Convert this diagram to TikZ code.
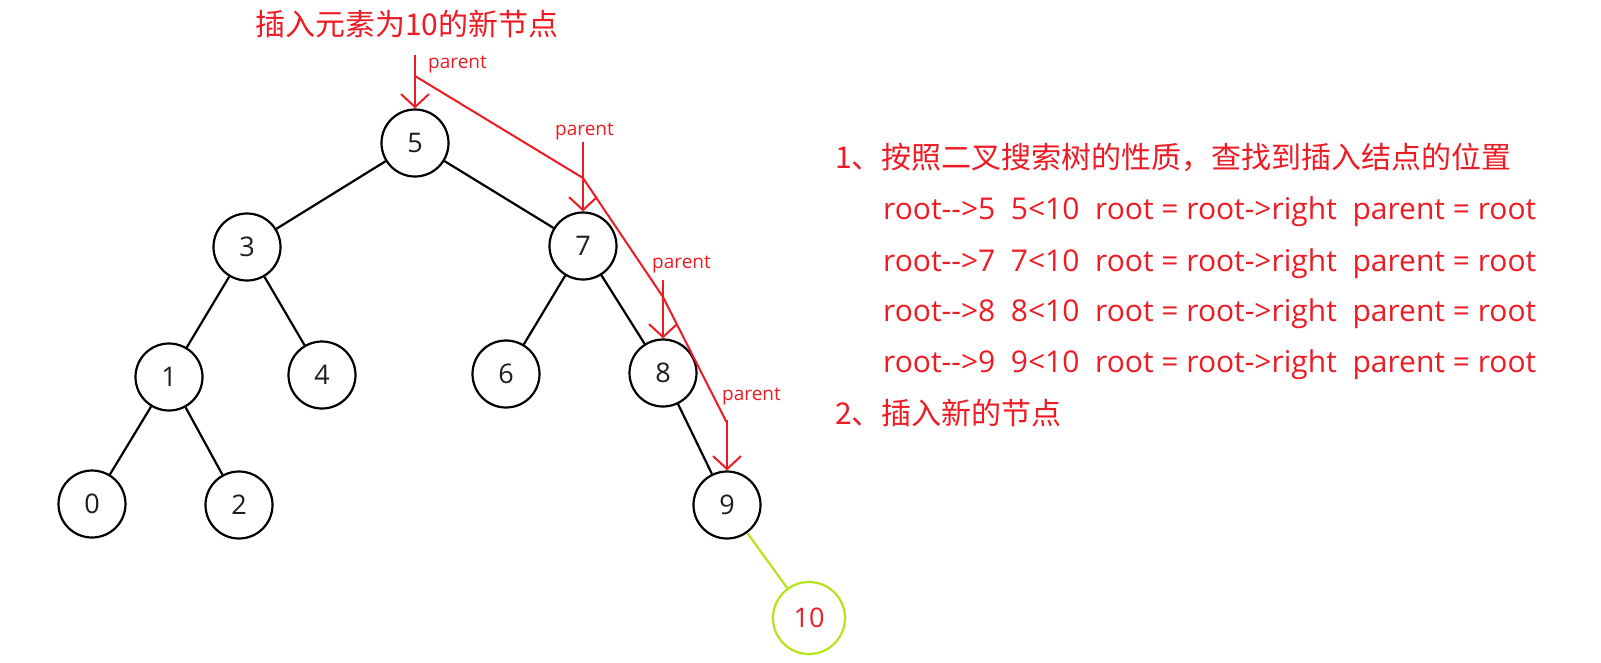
\documentclass[tikz,border=0pt]{standalone}
\usepackage{fontspec}
\setmainfont{Noto Sans CJK SC}
\newfontfamily\latinf{Open Sans}
\usetikzlibrary{arrows.meta}
\definecolor{rd}{RGB}{237,28,36}
\definecolor{lime}{RGB}{181,230,29}
\definecolor{ink}{RGB}{30,30,30}
\begin{document}
\begin{tikzpicture}[x=1pt,y=-1pt,
  tn/.style={circle,draw=black,line width=2.2pt,minimum size=67pt,inner sep=0pt,font=\latinf\fontsize{27}{27}\selectfont,text=ink},
  edge/.style={line width=2.2pt,draw=black},
  parr/.style={draw=rd,line width=2pt,-{Straight Barb[length=13pt,width=28pt]}},
  pline/.style={draw=rd,line width=2pt,line join=round},
  plab/.style={font=\latinf\fontsize{19}{19}\selectfont,text=rd,anchor=base west,inner sep=0pt},
  txt/.style={font=\fontsize{30}{30}\selectfont,text=rd,anchor=base west,inner sep=0pt},
  ltxt/.style={font=\latinf\fontsize{30}{30}\selectfont,text=rd,anchor=base west,inner sep=0pt}
]
\useasboundingbox (0,0) rectangle (1601,662);
\fill[white] (0,0) rectangle (1601,662);

% tree nodes
\node[tn] (n5) at (415,143) {5};
\node[tn] (n3) at (247,247) {3};
\node[tn] (n7) at (583,246) {7};
\node[tn] (n1) at (169,377) {1};
\node[tn] (n4) at (322,375) {4};
\node[tn] (n6) at (506,374) {6};
\node[tn] (n8) at (663,373) {8};
\node[tn] (n0) at (92,504) {0};
\node[tn] (n2) at (239,505) {2};
\node[tn] (n9) at (727,505) {9};
\node[tn,draw=lime,minimum size=72pt,text=rd] (n10) at (809,618) {10};

% edges
\draw[edge] (n5) -- (n3);
\draw[edge] (n5) -- (n7);
\draw[edge] (n3) -- (n1);
\draw[edge] (n3) -- (n4);
\draw[edge] (n7) -- (n6);
\draw[edge] (n7) -- (n8);
\draw[edge] (n1) -- (n0);
\draw[edge] (n1) -- (n2);
\draw[edge] (n8) -- (n9);
\draw[line width=2.2pt,draw=lime] (n9) -- (n10);

% parent arrows
\coordinate (a1) at (415,55);
\coordinate (a2) at (583,142);
\coordinate (a3) at (663,280);
\coordinate (a4) at (727,420);
\draw[parr] (a1) -- (n5.north);
\draw[parr] (a2) -- (n7.north);
\draw[parr] (a3) -- (n8.north);
\draw[parr] (a4) -- (n9.north);

% search path
\coordinate (b1) at (415,76);
\coordinate (b2) at (583,178);
\coordinate (b3) at (663,297);
\coordinate (b4) at (727,423);
\draw[pline] (b1) -- (b2) -- (b3) -- (b4);

% parent labels
\node[plab] (l1) at (428,68) {parent};
\node[plab] (l2) at (555,135) {parent};
\node[plab] (l3) at (652,268) {parent};
\node[plab] (l4) at (722,400) {parent};

% title
\node[txt] (title) at (255,35) {插入元素为10的新节点};

% explanation
\node[txt] (s1) at (835,168) {1、按照二叉搜索树的性质，查找到插入结点的位置};
\node[ltxt] (r1) at (883,219) {root-\kern0pt->5~~5<10~~root = root->right~~parent = root};
\node[ltxt] (r2) at (883,271) {root-\kern0pt->7~~7<10~~root = root->right~~parent = root};
\node[ltxt] (r3) at (883,321) {root-\kern0pt->8~~8<10~~root = root->right~~parent = root};
\node[ltxt] (r4) at (883,372) {root-\kern0pt->9~~9<10~~root = root->right~~parent = root};
\node[txt] (s2) at (835,424) {2、插入新的节点};
\end{tikzpicture}
\end{document}
